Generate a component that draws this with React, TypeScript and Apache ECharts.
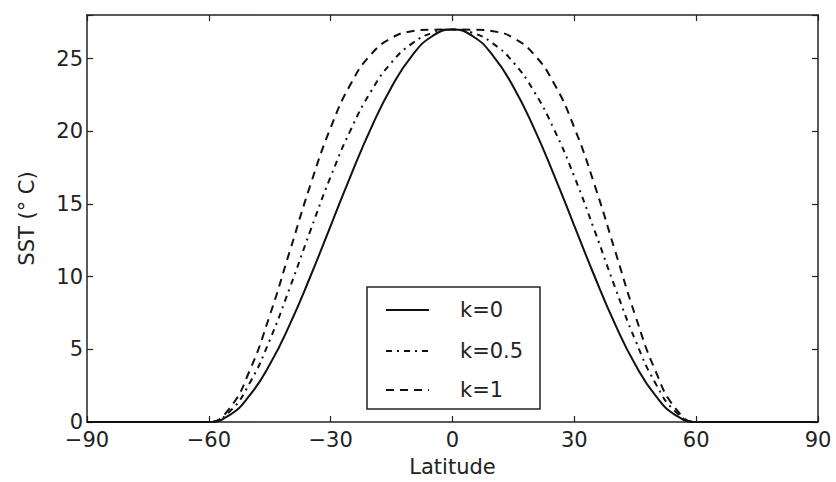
import React, { useEffect, useRef } from "react";
import * as echarts from "echarts";

// Latitude grid (degrees) and SST profiles (°C) for each k
const latitudes = [
  -90, -85, -80, -75, -70, -65, -60, -55, -50, -45, -40, -35, -30, -25, -20, -15, -10, -5,
  0, 5, 10, 15, 20, 25, 30, 35, 40, 45, 50, 55, 60, 65, 70, 75, 80, 85, 90,
];

const sstK0 = [
  0, 0, 0, 0, 0, 0, 0, 0.46, 1.81, 3.95, 6.75, 10.01, 13.5, 16.99, 20.25, 23.05, 25.19, 26.54,
  27, 26.54, 25.19, 23.05, 20.25, 16.99, 13.5, 10.01, 6.75, 3.95, 1.81, 0.46, 0, 0, 0, 0, 0, 0, 0,
];

const sstK05 = [
  0, 0, 0, 0, 0, 0, 0, 0.69, 2.65, 5.64, 9.28, 13.16, 16.88, 20.14, 22.78, 24.74, 26.03, 26.77,
  27, 26.77, 26.03, 24.74, 22.78, 20.14, 16.88, 13.16, 9.28, 5.64, 2.65, 0.69, 0, 0, 0, 0, 0, 0, 0,
];

const sstK1 = [
  0, 0, 0, 0, 0, 0, 0, 0.91, 3.5, 7.33, 11.81, 16.3, 20.25, 23.29, 25.31, 26.42, 26.88, 26.99,
  27, 26.99, 26.88, 26.42, 25.31, 23.29, 20.25, 16.3, 11.81, 7.33, 3.5, 0.91, 0, 0, 0, 0, 0, 0, 0,
];

const seriesNames = ["k=0", "k=0.5", "k=1"];
const xTicks = [-90, -60, -30, 0, 30, 60, 90];
const yTicks = [0, 5, 10, 15, 20, 25];

const FONT = "DejaVu Sans";
const INK = "#111";

export default function App() {
  const ref = useRef<HTMLDivElement>(null);

  useEffect(() => {
    if (!ref.current) return;
    const chart = echarts.init(ref.current, null, { renderer: "svg" });

    const pairs = (vals: number[]) => latitudes.map((lat, i) => [lat, vals[i]]);

    const lineSeries = (name: string, vals: number[], dash: any) => ({
      name,
      type: "line",
      data: pairs(vals),
      showSymbol: false,
      symbol: "none",
      smooth: 0.5,
      lineStyle: { color: INK, width: 2, type: dash },
      z: 3,
    });

    const axisCommon = {
      axisLine: { show: true, onZero: false, lineStyle: { color: "#222", width: 1.5 } },
      splitLine: { show: false },
    };

    const legendRows = [310, 351, 390];
    const legendDash: any[] = [null, [6, 5, 2, 5], [8, 6]];

    chart.setOption({
      animation: false,
      backgroundColor: "#fff",
      grid: { left: 87, right: 18, top: 15, bottom: 58, containLabel: false },
      xAxis: [
        {
          type: "value",
          min: -90,
          max: 90,
          interval: 30,
          name: "Latitude",
          nameLocation: "middle",
          nameGap: 34,
          nameTextStyle: { fontFamily: FONT, fontSize: 21, color: "#222" },
          axisTick: { show: true, inside: true, length: 6, lineStyle: { color: "#222", width: 1.2 } },
          axisLabel: {
            fontFamily: FONT,
            fontSize: 21,
            color: "#222",
            margin: 7,
            formatter: (v: number) => (xTicks.includes(v) ? String(v).replace("-", "\u2212") : ""),
          },
          ...axisCommon,
        },
        {
          type: "value",
          position: "top",
          min: -90,
          max: 90,
          interval: 30,
          axisTick: { show: true, inside: true, length: 6, lineStyle: { color: "#222", width: 1.2 } },
          axisLabel: { show: false },
          ...axisCommon,
        },
      ],
      yAxis: [
        {
          type: "value",
          min: 0,
          max: 28,
          interval: 5,
          name: "SST (° C)",
          nameLocation: "middle",
          nameGap: 50,
          nameTextStyle: { fontFamily: FONT, fontSize: 21, color: "#222" },
          axisTick: { show: true, inside: true, length: 6, lineStyle: { color: "#222", width: 1.2 } },
          axisLabel: {
            fontFamily: FONT,
            fontSize: 21,
            color: "#222",
            margin: 4,
            formatter: (v: number) => (yTicks.includes(v) ? String(v) : ""),
          },
          ...axisCommon,
        },
        {
          type: "value",
          position: "right",
          min: 0,
          max: 28,
          interval: 5,
          axisTick: { show: true, inside: true, length: 6, lineStyle: { color: "#222", width: 1.2 } },
          axisLabel: { show: false },
          ...axisCommon,
        },
      ],
      series: [
        lineSeries(seriesNames[0], sstK0, "solid"),
        lineSeries(seriesNames[1], sstK05, [6, 5, 2, 5]),
        lineSeries(seriesNames[2], sstK1, [8, 6]),
      ],
      graphic: [
        {
          type: "group",
          z: 10,
          children: [
            {
              type: "rect",
              shape: { x: 367, y: 287, width: 173, height: 122 },
              style: { fill: "#fff", stroke: "#222", lineWidth: 1.5 },
            },
            ...seriesNames.flatMap((name, i) => [
              {
                type: "line",
                shape: { x1: 386, y1: legendRows[i], x2: 429, y2: legendRows[i] },
                style: {
                  stroke: INK,
                  lineWidth: 2,
                  lineDash: legendDash[i] || undefined,
                },
              },
              {
                type: "text",
                x: 460,
                y: legendRows[i],
                style: {
                  text: name,
                  fontFamily: FONT,
                  fontSize: 21,
                  fill: "#222",
                  verticalAlign: "middle",
                  align: "left",
                },
              },
            ]),
          ],
        },
      ],
    });

    return () => chart.dispose();
  }, []);

  return <div ref={ref} style={{ width: 836, height: 482, position: "absolute", left: 0, top: 0 }} />;
}
